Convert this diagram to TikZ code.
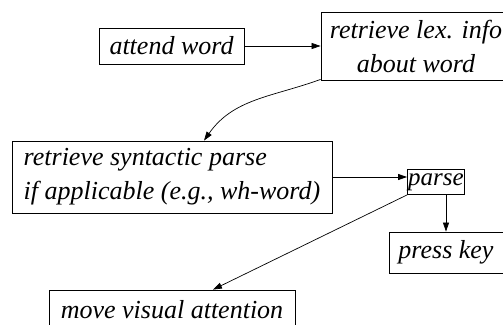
\documentclass[tikz,border=0pt]{standalone}
\usepackage{fontspec}
\setmainfont{Liberation Serif}[ItalicFont={Liberation Serif Italic}]
\usetikzlibrary{arrows.meta}
\begin{document}
\begin{tikzpicture}[x=1pt,y=-1pt,
  stepbox/.style={draw, line width=0.8pt, inner sep=0pt,
    font=\fontsize{26}{34}\selectfont\itshape},
  flow/.style={draw, line width=0.7pt, -{Triangle[length=9pt,width=6pt]}}]
  \useasboundingbox (0,0) rectangle (503,324);
  \clip (0,0) rectangle (503,324);

  \node[stepbox, minimum width=145pt, minimum height=36pt] (attend) at (171.5,46) {attend word};
  \node[stepbox, minimum width=190pt, minimum height=68pt, align=center] (lex) at (416,46)
    {retrieve lex. info\\about word};
  \node[stepbox, minimum width=320pt, minimum height=72pt, align=left] (synt) at (172,177)
    {retrieve syntactic parse\\if applicable (e.g., wh-word)};
  \node[stepbox, minimum width=57pt, minimum height=25pt,
    font=\fontsize{25}{30}\selectfont\itshape] (parse) at (436,182) {parse};
  \node[stepbox, minimum width=114pt, minimum height=41pt] (press) at (446,252.5) {press key};
  \node[stepbox, minimum width=246pt, minimum height=40pt] (move) at (172,310) {move visual attention};

  \draw[flow] (attend.east) -- (lex.west);
  \draw[flow] ([yshift=1pt]lex.south west) to[out=200, in=55] ([xshift=32pt]synt.north);
  \draw[flow] (synt.east) -- (synt.east -| parse.west);
  \draw[flow] (parse.south -| press.north) -- (press.north);
  \draw[flow] (parse.south west) -- ([xshift=41pt]move.north);
\end{tikzpicture}
\end{document}
